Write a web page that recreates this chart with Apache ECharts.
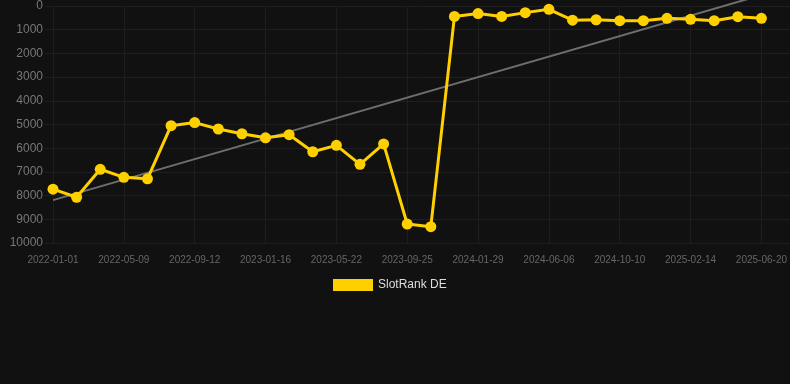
<!DOCTYPE html>
<html>
<head>
<meta charset="utf-8">
<script src="https://cdn.jsdelivr.net/npm/echarts@6/dist/echarts.min.js"></script>
<style>
  html, body { margin: 0; padding: 0; background: #111111; }
  #main { width: 790px; height: 384px; }
</style>
</head>
<body>
<div id="main"></div>
<script>
const dates = [
  '2022-01-01', '2022-02-13', '2022-03-27', '2022-05-09', '2022-06-20', '2022-08-01',
  '2022-09-12', '2022-10-24', '2022-12-05', '2023-01-16', '2023-02-27', '2023-04-10',
  '2023-05-22', '2023-07-03', '2023-08-14', '2023-09-25', '2023-11-06', '2023-12-18',
  '2024-01-29', '2024-03-12', '2024-04-24', '2024-06-06', '2024-07-18', '2024-08-29',
  '2024-10-10', '2024-11-21', '2025-01-03', '2025-02-14', '2025-03-28', '2025-05-09',
  '2025-06-20',
];

const rankDE = [
  7730, 8070, 6890, 7230, 7290, 5050,
  4920, 5190, 5390, 5560, 5430, 6150,
  5880, 6680, 5820, 9200, 9310, 440,
  320, 440, 280, 140, 600, 580,
  620, 620, 520, 560, 620, 450,
  520,
];

// trend line, start and end
const trendStart = 8190;
const trendEnd = -460;

const myChart = echarts.init(document.getElementById('main'));

const gridLine = { color: '#1e1e1e' };

const option = {
  backgroundColor: '#111111',
  animation: false,
  grid: [
    { left: 53, right: 28, top: 6, bottom: 141 },
    // wider grid only used for the horizontal lines
    { left: 45, right: 0, top: 6, bottom: 141 },
  ],
  legend: {
    top: 274,
    left: 328,
    itemWidth: 40,
    itemHeight: 12,
    itemGap: 6,
    icon: 'rect',
    textStyle: { color: '#dddddd', fontSize: 12 },
    data: ['SlotRank DE'],
  },
  xAxis: [
    {
      type: 'category',
      gridIndex: 0,
      boundaryGap: false,
      data: dates,
      axisLine: { show: false },
      axisTick: {
        show: true,
        interval: 2,
        length: 5,
        lineStyle: { color: '#1c1c1c' },
      },
      axisLabel: {
        interval: 2,
        color: '#666666',
        fontSize: 10,
        margin: 12,
      },
      splitLine: {
        show: true,
        interval: 2,
        lineStyle: gridLine,
      },
    },
    {
      type: 'value',
      gridIndex: 1,
      min: 0,
      max: 1,
      show: false,
    },
  ],
  yAxis: [
    {
      type: 'value',
      gridIndex: 0,
      inverse: true,
      min: 0,
      max: 10000,
      interval: 1000,
      axisLine: { show: false },
      axisTick: { show: false },
      axisLabel: {
        color: '#777777',
        fontSize: 12,
        margin: 10,
        formatter: v => String(v),
      },
      splitLine: { show: false },
    },
    {
      type: 'value',
      gridIndex: 1,
      inverse: true,
      min: 0,
      max: 10000,
      interval: 1000,
      axisLine: { show: false },
      axisTick: { show: false },
      axisLabel: { show: false },
      splitLine: { show: true, lineStyle: gridLine },
    },
  ],
  series: [
    {
      name: 'trend',
      type: 'line',
      clip: false,
      silent: true,
      symbol: 'none',
      lineStyle: { color: '#6e6e6e', width: 2 },
      data: [[dates[0], trendStart], [dates[dates.length - 1], trendEnd]],
      z: 1,
    },
    {
      name: 'SlotRank DE',
      type: 'line',
      symbol: 'circle',
      symbolSize: 11,
      itemStyle: { color: '#ffd000' },
      lineStyle: { color: '#ffd000', width: 3 },
      data: rankDE,
      z: 3,
    },
  ],
};

myChart.setOption(option);
</script>
</body>
</html>
